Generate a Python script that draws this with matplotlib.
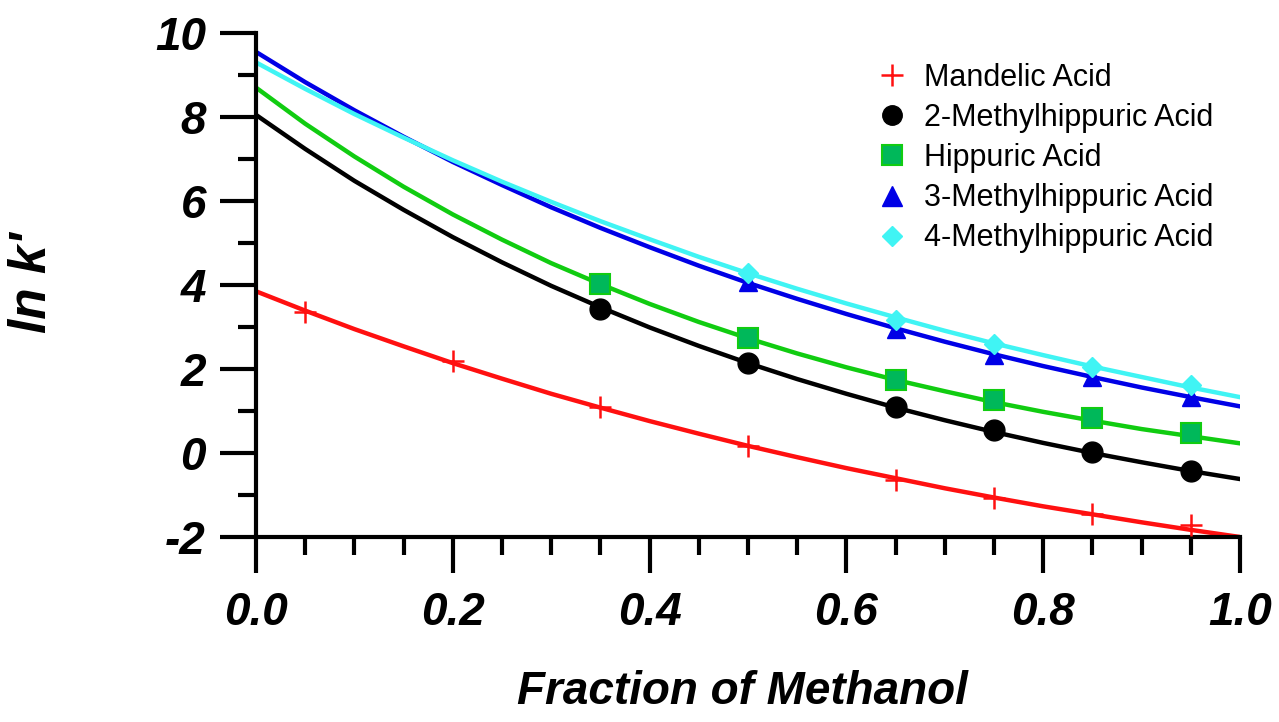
import matplotlib
matplotlib.use("Agg")
import matplotlib.pyplot as plt
from matplotlib.lines import Line2D
from matplotlib.ticker import MultipleLocator

plt.rcParams['font.family'] = ['Liberation Sans', 'DejaVu Sans']

curve_x = [0.0, 0.05, 0.1, 0.15, 0.2, 0.25, 0.3, 0.35, 0.4, 0.45, 0.5,
           0.55, 0.6, 0.65, 0.7, 0.75, 0.8, 0.85, 0.9, 0.95, 1.0]
mandelic_fit = [3.85, 3.39, 2.95, 2.54, 2.14, 1.77, 1.41, 1.08, 0.76, 0.46, 0.17,
                -0.10, -0.36, -0.60, -0.84, -1.06, -1.27, -1.46, -1.65, -1.83, -2.00]
methyl2_fit = [8.05, 7.24, 6.48, 5.79, 5.14, 4.54, 3.98, 3.47, 2.99, 2.55, 2.14,
               1.76, 1.41, 1.08, 0.78, 0.50, 0.24, 0.00, -0.22, -0.43, -0.62]
hippuric_fit = [8.70, 7.84, 7.06, 6.34, 5.68, 5.08, 4.52, 4.02, 3.55, 3.12, 2.73,
                2.37, 2.04, 1.74, 1.47, 1.21, 0.98, 0.77, 0.57, 0.40, 0.23]
methyl3_fit = [9.55, 8.83, 8.16, 7.53, 6.93, 6.38, 5.85, 5.36, 4.90, 4.46, 4.05,
               3.67, 3.31, 2.97, 2.65, 2.35, 2.07, 1.81, 1.56, 1.33, 1.11]
methyl4_fit = [9.30, 8.67, 8.07, 7.51, 6.97, 6.46, 5.98, 5.52, 5.09, 4.67, 4.28,
               3.91, 3.56, 3.23, 2.91, 2.61, 2.33, 2.06, 1.81, 1.56, 1.33]

# measured points
mandelic_x = [0.05, 0.2, 0.35, 0.5, 0.65, 0.75, 0.85, 0.95]
mandelic_y = [3.36, 2.18, 1.10, 0.16, -0.64, -1.06, -1.45, -1.72]
methyl2_x = [0.35, 0.5, 0.65, 0.75, 0.85, 0.95]
methyl2_y = [3.42, 2.14, 1.10, 0.55, 0.03, -0.42]
hippuric_x = [0.35, 0.5, 0.65, 0.75, 0.85, 0.95]
hippuric_y = [4.03, 2.74, 1.74, 1.26, 0.83, 0.47]
methyl3_x = [0.5, 0.65, 0.75, 0.85, 0.95]
methyl3_y = [4.07, 2.95, 2.33, 1.80, 1.33]
methyl4_x = [0.5, 0.65, 0.75, 0.85, 0.95]
methyl4_y = [4.28, 3.17, 2.60, 2.05, 1.62]

labels = ["Mandelic Acid", "2-Methylhippuric Acid", "Hippuric Acid",
          "3-Methylhippuric Acid", "4-Methylhippuric Acid"]

red = "#ff1010"
green_line = "#11cc11"
green_fill = "#00b85a"
blue = "#0000e6"
cyan = "#40f4f4"

fig = plt.figure(figsize=(12.79, 7.22), dpi=100)
ax = fig.add_axes([256/1279, 1 - 537/722, (1240-256)/1279, (537-33)/722])

lw = 3.2
ax.plot(curve_x, methyl2_fit, color="black", lw=lw, zorder=2)
ax.plot(curve_x, hippuric_fit, color=green_line, lw=lw, zorder=2)
ax.plot(curve_x, methyl3_fit, color=blue, lw=lw, zorder=2)
ax.plot(curve_x, methyl4_fit, color=cyan, lw=lw, zorder=2)
ax.plot(curve_x, mandelic_fit, color=red, lw=lw, zorder=2)

ax.plot(mandelic_x, mandelic_y, '+', color=red, ms=16, mew=1.8, zorder=3)
ax.plot(methyl2_x, methyl2_y, 'o', color="black", ms=15, zorder=3)
ax.plot(hippuric_x, hippuric_y, 's', mfc=green_fill, mec=green_line, mew=1.5, ms=14, zorder=3)
ax.plot(methyl3_x, methyl3_y, '^', color=blue, ms=13, zorder=3)
ax.plot(methyl4_x, methyl4_y, 'D', color=cyan, ms=10, zorder=3)

ax.set_xlim(0, 1.0)
ax.set_ylim(-2, 10)
for side in ["top", "right"]:
    ax.spines[side].set_visible(False)
for side in ["left", "bottom"]:
    ax.spines[side].set_linewidth(3)

ax.xaxis.set_major_locator(MultipleLocator(0.2))
ax.xaxis.set_minor_locator(MultipleLocator(0.05))
ax.yaxis.set_major_locator(MultipleLocator(2))
ax.yaxis.set_minor_locator(MultipleLocator(1))
ax.tick_params(which="major", direction="out", length=26, width=3)
ax.tick_params(which="minor", direction="out", length=13, width=3)
ax.tick_params(axis="x", which="major", pad=13)
ax.tick_params(axis="y", which="major", pad=10)
ax.set_xticklabels(["%.1f" % v for v in ax.get_xticks()])
ax.set_yticklabels(["%d" % v for v in ax.get_yticks()])
for lab in ax.get_xticklabels() + ax.get_yticklabels():
    lab.set_fontsize(33)
    lab.set_fontweight("bold")
    lab.set_fontstyle("italic")

fig.text(742/1279, 1 - 692/722, "Fraction of Methanol", fontsize=33,
         fontweight="bold", fontstyle="italic", ha="center", va="center")
fig.text(32/1279, 1 - 283/722, "ln k'", fontsize=37, rotation=90,
         fontweight="bold", fontstyle="italic", ha="center", va="center")

handles = [
    Line2D([], [], ls="none", marker="+", color=red, ms=16, mew=1.8),
    Line2D([], [], ls="none", marker="o", color="black", ms=14),
    Line2D([], [], ls="none", marker="s", mfc=green_fill, mec=green_line, mew=1.5, ms=14),
    Line2D([], [], ls="none", marker="^", color=blue, ms=14),
    Line2D([], [], ls="none", marker="D", color=cyan, ms=10),
]
fig.legend(handles, labels, loc="upper left", bbox_to_anchor=(877/1279, 1 - 63/722),
           frameon=False, fontsize=22, handlelength=1.0, handletextpad=0.55,
           labelspacing=0.33, borderpad=0, borderaxespad=0)

fig.savefig("out.png", dpi=100)
